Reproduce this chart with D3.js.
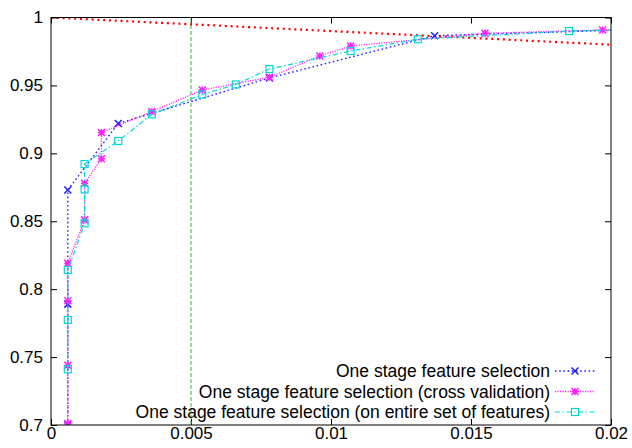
<!DOCTYPE html>
<html>
<head>
<meta charset="utf-8">
<script src="https://cdn.jsdelivr.net/npm/d3@7"></script>
<style>
  html, body { margin: 0; padding: 0; background: #fff; }
  svg { display: block; }
  text { font-family: "Liberation Sans", Arial, Helvetica, sans-serif; }
</style>
</head>
<body>
<svg id="chart" width="632" height="448"></svg>
<script>
// Axis ticks
const xTicks = [0, 0.005, 0.01, 0.015, 0.02];
const xTickLabels = ["0", "0.005", "0.01", "0.015", "0.02"];
const yTicks = [0.7, 0.75, 0.8, 0.85, 0.9, 0.95, 1];
const yTickLabels = ["0.7", "0.75", "0.8", "0.85", "0.9", "0.95", "1"];

// One stage feature selection
const oneStageX = [0.0006, 0.0006, 0.0006, 0.0024, 0.0078, 0.0137, 0.0215];
const oneStageY = [0.700, 0.789, 0.873, 0.922, 0.9555, 0.9866, 0.9915];

// One stage feature selection (cross validation)
const crossValX = [0.0006, 0.0006, 0.0006, 0.0006, 0.0012, 0.0012, 0.0018, 0.0018,
                   0.0036, 0.0054, 0.0078, 0.0096, 0.0107, 0.0155, 0.0197, 0.0215];
const crossValY = [0.701, 0.744, 0.7915, 0.819, 0.851, 0.878, 0.896, 0.9153,
                   0.9307, 0.9466, 0.956, 0.9717, 0.979, 0.9884, 0.9908, 0.9915];

// One stage feature selection (on entire set of features)
const entireX = [0.0006, 0.0006, 0.0006, 0.0012, 0.0012, 0.0012, 0.0024, 0.0036,
                 0.0054, 0.0066, 0.0078, 0.0107, 0.0131, 0.0185, 0.0215];
const entireY = [0.741, 0.7773, 0.8141, 0.8485, 0.8735, 0.8921, 0.9091, 0.9287,
                 0.9433, 0.9507, 0.9621, 0.9753, 0.984, 0.990, 0.9915];

// Reference diagonal and threshold
const refX = [0, 0.02];
const refY = [1, 0.98];
const thresholdX = 0.005;

const legendLabels = [
  "One stage feature selection",
  "One stage feature selection (cross validation)",
  "One stage feature selection (on entire set of features)"
];

const margin = { left: 51, right: 21, top: 17.5, bottom: 23 };
const W = 632, H = 448;
const svg = d3.select("#chart");

const x = d3.scaleLinear().domain([0, 0.02]).range([margin.left, W - margin.right]);
const y = d3.scaleLinear().domain([0.7, 1]).range([H - margin.bottom, margin.top]);

svg.append("rect").attr("width", W).attr("height", H).attr("fill", "#fff");

svg.append("defs").append("clipPath").attr("id", "plotClip")
  .append("rect")
  .attr("x", x(0)).attr("y", y(1))
  .attr("width", x(0.02) - x(0)).attr("height", y(0.7) - y(1));

// Axes with inward ticks on all four sides
const tick = 6;
const fmtX = d => xTickLabels[xTicks.indexOf(d)];
const fmtY = d => yTickLabels[yTicks.indexOf(d)];

const gx = svg.append("g").attr("transform", `translate(0,${y(0.7)})`)
  .call(d3.axisBottom(x).tickValues(xTicks).tickFormat(fmtX).tickSizeInner(-tick).tickSizeOuter(0).tickPadding(6));
const gxTop = svg.append("g").attr("transform", `translate(0,${y(1)})`)
  .call(d3.axisTop(x).tickValues(xTicks).tickFormat("").tickSizeInner(-tick).tickSizeOuter(0));
const gy = svg.append("g").attr("transform", `translate(${x(0)},0)`)
  .call(d3.axisLeft(y).tickValues(yTicks).tickFormat(fmtY).tickSizeInner(-tick).tickSizeOuter(0).tickPadding(8));
const gyRight = svg.append("g").attr("transform", `translate(${x(0.02)},0)`)
  .call(d3.axisRight(y).tickValues(yTicks).tickFormat("").tickSizeInner(-tick).tickSizeOuter(0));

[gx, gxTop, gy, gyRight].forEach(g => {
  g.select(".domain").remove();
  g.selectAll(".tick line").attr("stroke", "#000").attr("stroke-width", 1);
  g.selectAll("text").attr("fill", "#000").style("font-size", "17px");
});
gx.selectAll("text").attr("dy", "0.45em");

const plot = svg.append("g").attr("clip-path", "url(#plotClip)");

// Threshold line
plot.append("line")
  .attr("x1", x(thresholdX)).attr("x2", x(thresholdX))
  .attr("y1", y(0.7)).attr("y2", y(1))
  .attr("stroke", "#33bb33").attr("stroke-width", 1)
  .attr("stroke-dasharray", "4,2");

// Reference diagonal
const line = d3.line().x(d => x(d[0])).y(d => y(d[1]));
plot.append("path")
  .attr("d", line(d3.zip(refX, refY)))
  .attr("fill", "none").attr("stroke", "#ff0000").attr("stroke-width", 2.2)
  .attr("stroke-dasharray", "2,3.8");

const series = [
  { xs: oneStageX, ys: oneStageY, color: "#2020ff", dash: "1.6,2.6", width: 1.4, marker: "x" },
  { xs: crossValX, ys: crossValY, color: "#ff22ff", dash: "1.2,1.3", width: 1.3, marker: "star" },
  { xs: entireX, ys: entireY, color: "#00d8d8", dash: "5,2.5,1.5,2.5", width: 1.2, marker: "square" }
];

function drawMarker(g, type, cx, cy, color) {
  const s = 3.5;
  if (type === "x") {
    g.append("path")
      .attr("d", `M${cx - s},${cy - s}L${cx + s},${cy + s}M${cx - s},${cy + s}L${cx + s},${cy - s}`)
      .attr("stroke", color).attr("stroke-width", 1.5).attr("fill", "none");
  } else if (type === "star") {
    g.append("path")
      .attr("d", `M${cx - s},${cy - s}L${cx + s},${cy + s}M${cx - s},${cy + s}L${cx + s},${cy - s}` +
                 `M${cx - s},${cy}L${cx + s},${cy}M${cx},${cy - s}L${cx},${cy + s}`)
      .attr("stroke", color).attr("stroke-width", 1.6).attr("fill", "none");
  } else {
    g.append("rect")
      .attr("x", cx - s).attr("y", cy - s).attr("width", 2 * s).attr("height", 2 * s)
      .attr("stroke", color).attr("stroke-width", 1.2).attr("fill", "none");
  }
}

series.forEach(s => {
  const pts = d3.zip(s.xs, s.ys);
  plot.append("path")
    .attr("d", line(pts))
    .attr("fill", "none").attr("stroke", s.color).attr("stroke-width", s.width)
    .attr("stroke-dasharray", s.dash);
  const mg = plot.append("g");
  pts.forEach(p => drawMarker(mg, s.marker, x(p[0]), y(p[1]), s.color));
});

// Border
svg.append("rect")
  .attr("x", x(0)).attr("y", y(1))
  .attr("width", x(0.02) - x(0)).attr("height", y(0.7) - y(1))
  .attr("fill", "none").attr("stroke", "#000").attr("stroke-width", 1);

// Legend
const legend = svg.append("g");
const rowY = [371, 391.5, 412];
series.forEach((s, i) => {
  legend.append("text")
    .attr("x", 550).attr("y", rowY[i]).attr("dy", "0.35em")
    .attr("text-anchor", "end").style("font-size", "17.5px").attr("fill", "#000")
    .text(legendLabels[i]);
  legend.append("line")
    .attr("x1", 555).attr("x2", 595).attr("y1", rowY[i]).attr("y2", rowY[i])
    .attr("stroke", s.color).attr("stroke-width", s.width)
    .attr("stroke-dasharray", s.dash);
  drawMarker(legend, s.marker, 575, rowY[i], s.color);
});
</script>
</body>
</html>
